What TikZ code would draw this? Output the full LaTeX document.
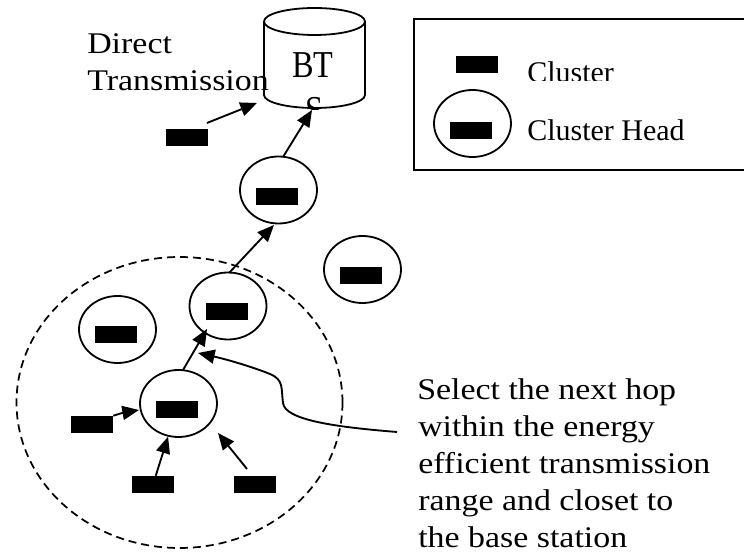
\documentclass[tikz,border=0pt]{standalone}
\usepackage{fontspec}
\setmainfont{Liberation Serif}
\newfontfamily\bodyfont[FakeStretch=1.13]{Liberation Serif}
\newfontfamily\keyfont{Liberation Serif}
\newfontfamily\btsfont[FakeStretch=0.85]{Liberation Serif}
\usetikzlibrary{arrows.meta,shapes.geometric}

\begin{document}
\begin{tikzpicture}[x=0.75pt,y=-0.75pt,
  chip/.style={fill=black,draw=none,inner sep=0pt,minimum width=31.5pt,minimum height=12.75pt},
  head/.style={draw,ellipse,line width=1.35pt,inner sep=0pt,minimum width=57.75pt,minimum height=50.25pt},
  arr/.style={-{Triangle[length=12.5pt,width=10.5pt]},line width=1.4pt},
  txt/.style={anchor=base west,inner sep=0pt,font=\bodyfont\fontsize{22.5pt}{27.75pt}\selectfont},
  keytxt/.style={anchor=base west,inner sep=0pt,font=\keyfont\fontsize{22.5pt}{27.75pt}\selectfont}]
\useasboundingbox (0,0) rectangle (744,555);

% legend
\draw[line width=1.6pt] (414,19) rectangle (760,170);
\node[chip] (keychip) at (476.5,65) {};
\begin{scope}
  \clip (500,40) rectangle (744,81);
  \node[keytxt] (keycl) at (527,83) {Cluster};
\end{scope}
\node[head] (keyhead) at (472.5,123.5) {};
\node[chip] (keyheadchip) at (471,130.5) {};
\node[keytxt] (keych) at (527,141) {Cluster Head};

% base station drum
\draw[line width=1.35pt,fill=white] (264,21.5) -- (264,95)
  arc[start angle=180,end angle=360,x radius=37.875pt,y radius=9.75pt] -- (365,21.5);
\draw[line width=1.35pt] (314.5,21.5) ellipse[x radius=37.875pt,y radius=10.125pt];
\node[anchor=base,inner sep=0pt,font=\btsfont\fontsize{28.5pt}{33pt}\selectfont] (bts) at (313,78) {BT};
\begin{scope}
  \clip (250,0) rectangle (380,110);
  \node[anchor=base,inner sep=0pt,font=\btsfont\fontsize{28.5pt}{33pt}\selectfont] (btss) at (314,122.5) {S};
\end{scope}

% direct transmission
\node[txt] (dt1) at (87,54) {Direct};
\node[txt] (dt2) at (87,91) {Transmission};
\node[chip] (sDT) at (186.5,137.5) {};

% cluster range
\node[draw,ellipse,dashed,dash pattern=on 6pt off 3.75pt,line width=1.3pt,inner sep=0pt,
      minimum width=244.5pt,minimum height=218.25pt] (zone) at (179.5,402.5) {};

% cluster heads
\node[head] (chA) at (228,306) {};
\node[chip] (chAc) at (227,312) {};
\node[head] (chB) at (117.5,329.5) {};
\node[chip] (chBc) at (116,335) {};
\node[head] (chC) at (178.5,403.5) {};
\node[chip] (chCc) at (177,409.5) {};
\node[head] (chD) at (278.5,190) {};
\node[chip] (chDc) at (277,196.5) {};
\node[head] (chE) at (362.5,269.5) {};
\node[chip] (chEc) at (361,275.5) {};

% cluster members
\node[chip] (sL) at (92,424.5) {};
\node[chip] (sB1) at (153,484.5) {};
\node[chip] (sB2) at (255,484.5) {};

% arrow end points
\coordinate (tL) at (139,410);
\coordinate (b2s) at (247,469);
\coordinate (b2t) at (218,433);
\coordinate (cCs) at (183,370);
\coordinate (cAt) at (207,329);
\coordinate (cAs) at (229,273);
\coordinate (cDt) at (274,225);
\coordinate (cDs) at (283,157);
\coordinate (btsT) at (312,110);
\coordinate (dtS) at (207,123);
\coordinate (dtT) at (257,103);
\coordinate (noteS) at (397,432);
\coordinate (noteT) at (198,353);

\draw[arr] (sL.north east) .. controls (122,413) .. (tL);
\draw[arr] (sB1) -- (chC);
\draw[arr] (b2s) -- (b2t);
\draw[arr] (cCs) -- (cAt);
\draw[arr] (cAs) -- (cDt);
\draw[arr] (cDs) -- (btsT);
\draw[arr] (dtS) -- (dtT);
\draw[arr] (noteS) .. controls (335,427) and (285,420) .. (283,403)
  .. controls (281,388) and (284,380) .. (270,374)
  .. controls (250,366) and (225,359) .. (noteT);

% note
\node[txt] (n1) at (417,400) {Select the next hop};
\node[txt] (n2) at (418,437) {within the energy};
\node[txt] (n3) at (418,474) {efficient transmission};
\node[txt] (n4) at (418,511) {range and closet to};
\node[txt] (n5) at (418,548) {the base station};
\end{tikzpicture}
\end{document}
